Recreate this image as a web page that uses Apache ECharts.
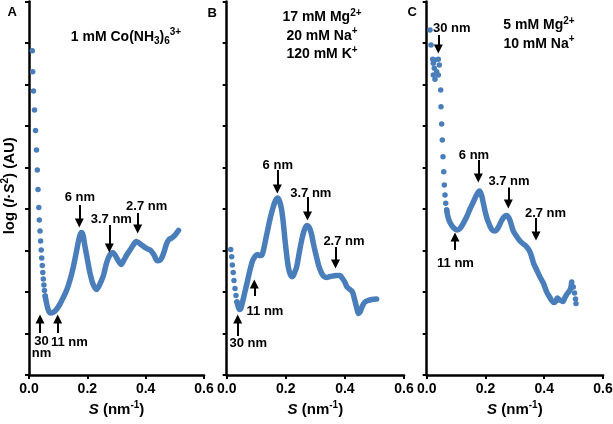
<!DOCTYPE html>
<html>
<head>
<meta charset="utf-8">
<script src="https://cdn.jsdelivr.net/npm/echarts@6/dist/echarts.min.js"></script>
<style>
html,body{margin:0;padding:0;background:#fff;}
#chart{width:613px;height:424px;}
</style>
</head>
<body>
<div id="chart"></div>
<script>
// ---- data (S in nm^-1, log(I*S^2) in arbitrary units, 0..9 ticks) ----
const xTicks = [0.0, 0.2, 0.4, 0.6];
const yTickCount = 9;

// Panel A: 1 mM Co(NH3)6 3+
const sparseA = [
  [0.0113,7.814],[0.0127,7.308],[0.0154,6.843],[0.0189,6.386],[0.0223,5.892],[0.0257,5.422],
  [0.0285,4.940],[0.0309,4.470],[0.0336,4.036],[0.0353,3.735],[0.0377,3.470],[0.0398,3.229],
  [0.0418,3.012],[0.0435,2.819],[0.0456,2.639],[0.0473,2.470],[0.0490,2.313],[0.0511,2.169],
  [0.0531,2.036],[0.0555,1.904]
];
const curveA = [
  [0.0555,1.904],[0.0600,1.735],[0.0651,1.590],[0.0720,1.494],[0.0823,1.506],[0.0926,1.566],
  [0.1063,1.711],[0.1166,1.855],[0.1293,2.048],[0.1406,2.289],[0.1519,2.602],[0.1611,2.916],
  [0.1690,3.205],[0.1749,3.373],[0.1800,3.434],[0.1851,3.373],[0.1920,3.096],[0.2006,2.771],
  [0.2091,2.458],[0.2194,2.193],[0.2314,2.060],[0.2400,2.145],[0.2547,2.386],[0.2640,2.651],
  [0.2719,2.819],[0.2794,2.916],[0.2870,2.952],[0.2949,2.892],[0.3027,2.795],[0.3154,2.663],
  [0.3257,2.771],[0.3350,2.892],[0.3463,3.012],[0.3576,3.133],[0.3679,3.217],[0.3771,3.181],
  [0.3864,3.133],[0.4035,3.048],[0.4173,3.000],[0.4286,2.892],[0.4399,2.754],[0.4474,2.759],
  [0.4550,2.819],[0.4629,2.964],[0.4721,3.169],[0.4800,3.265],[0.4893,3.301],[0.5006,3.373],
  [0.5085,3.446],[0.5126,3.482]
];
const arrowsA = [[0.1725,4.096,3.663],[0.2753,3.614,3.060],[0.3727,3.904,3.518],[0.0377,1.012,1.349],[0.0984,1.012,1.349]];
const labelsA = [[0.1742,4.282,'6 nm'],[0.2822,3.752,'3.7 nm'],[0.4035,4.072,'2.7 nm'],[0.0429,0.663,'30\nnm'],[0.1382,0.795,'11 nm']];

// Panel B: 17 mM Mg2+, 20 mM Na+, 120 mM K+
const sparseB = [
  [0.0135,3.024],[0.0169,2.851],[0.0190,2.651],[0.0220,2.470],[0.0247,2.277],[0.0281,2.084],
  [0.0315,1.916],[0.0349,1.759]
];
const curveB = [
  [0.0349,1.759],[0.0393,1.639],[0.0433,1.578],[0.0484,1.614],[0.0552,1.807],[0.0619,2.012],
  [0.0704,2.265],[0.0788,2.530],[0.0873,2.747],[0.0958,2.855],[0.1042,2.904],[0.1110,2.880],
  [0.1178,2.880],[0.1245,3.012],[0.1330,3.301],[0.1408,3.566],[0.1482,3.807],[0.1577,4.055],
  [0.1651,4.205],[0.1726,4.265],[0.1787,4.193],[0.1854,4.000],[0.1905,3.735],[0.1973,3.253],
  [0.2030,2.892],[0.2091,2.578],[0.2161,2.410],[0.2227,2.373],[0.2294,2.458],[0.2369,2.610],
  [0.2447,2.916],[0.2538,3.253],[0.2616,3.470],[0.2707,3.602],[0.2785,3.566],[0.2863,3.414],
  [0.2937,3.157],[0.3022,2.892],[0.3107,2.651],[0.3208,2.458],[0.3293,2.373],[0.3384,2.349],
  [0.3496,2.373],[0.3607,2.386],[0.3716,2.398],[0.3834,2.398],[0.3919,2.325],[0.4003,2.229],
  [0.4071,2.120],[0.4172,2.060],[0.4257,2.000],[0.4342,1.783],[0.4409,1.590],[0.4460,1.482],
  [0.4511,1.518],[0.4579,1.639],[0.4663,1.747],[0.4782,1.795],[0.4917,1.819],[0.5076,1.831]
];
const arrowsB = [[0.1712,4.940,4.482],[0.2734,4.289,3.831],[0.3682,3.084,2.675],[0.0934,1.904,2.193],[0.0372,0.940,1.349]];
const labelsB = [[0.1729,5.060,'6 nm'],[0.2846,4.378,'3.7 nm'],[0.3969,3.212,'2.7 nm'],[0.1296,1.542,'11 nm'],[0.0731,0.764,'30 nm']];

// Panel C: 5 mM Mg2+, 10 mM Na+
const sparseC = [
  [0.0112,8.313],[0.0146,7.952],[0.0204,7.607],[0.0225,7.511],[0.0225,7.229],[0.0259,7.390],
  [0.0282,7.590],[0.0282,7.125],[0.0340,7.308],[0.0395,7.607],[0.0395,7.229],[0.0429,7.470],
  [0.0476,6.867],[0.0487,6.465],[0.0510,6.048],[0.0531,5.663],[0.0555,5.260],[0.0579,4.899],
  [0.0599,4.578],[0.0623,4.337],[0.0647,4.137],[0.0681,3.976],
  [0.4989,2.120],[0.5030,1.976],[0.5064,1.831],[0.5081,1.723]
];
const curveC = [
  [0.0681,3.976],[0.0725,3.807],[0.0793,3.675],[0.0905,3.554],[0.1041,3.494],[0.1133,3.530],
  [0.1245,3.655],[0.1361,3.814],[0.1473,4.000],[0.1586,4.169],[0.1712,4.361],[0.1797,4.434],
  [0.1865,4.337],[0.1926,4.145],[0.2018,3.855],[0.2096,3.687],[0.2212,3.506],[0.2307,3.470],
  [0.2382,3.494],[0.2460,3.590],[0.2552,3.723],[0.2631,3.807],[0.2722,3.843],[0.2801,3.783],
  [0.2858,3.675],[0.2947,3.470],[0.3063,3.337],[0.3175,3.229],[0.3287,3.157],[0.3379,3.108],
  [0.3491,3.000],[0.3566,2.867],[0.3634,2.699],[0.3737,2.542],[0.3856,2.361],[0.3968,2.217],
  [0.4084,2.000],[0.4172,1.892],[0.4254,1.795],[0.4332,1.747],[0.4400,1.783],[0.4451,1.855],
  [0.4502,1.819],[0.4570,1.795],[0.4638,1.771],[0.4706,1.867],[0.4774,1.952],[0.4842,2.012],
  [0.4900,2.084],[0.4934,2.241]
];
const arrowsC = [[0.0395,8.193,7.855],[0.1756,5.181,4.747],[0.2777,4.518,4.120],[0.3719,3.783,3.349],[0.0963,3.012,3.325]];
const labelsC = [[0.0851,8.354,'30 nm'],[0.1610,5.301,'6 nm'],[0.2801,4.658,'3.7 nm'],[0.4043,3.896,'2.7 nm'],[0.0980,2.692,'11 nm']];

const panelLetters = ['A', 'B', 'C'];
const conditionsA = ['{n|1 mM Co(NH}{sub|3}{n|)}{sub|6}{sup|3+}'];
const conditionsB = ['{n|17 mM Mg}{sup|2+}', '{n|20 mM Na}{sup|+}', '{n|120 mM K}{sup|+}'];
const conditionsC = ['{n|5 mM Mg}{sup|2+}', '{n|10 mM Na}{sup|+}'];

// ---- styling / layout ----
const BLUE = '#4a7ebb';
const FONT = '"Liberation Sans", Arial, sans-serif';
const grids = [
  {left: 29, width: 175, top: 1.5, bottom: 49},
  {left: 226.7, width: 177.3, top: 1.5, bottom: 49},
  {left: 426.7, width: 176.3, top: 1.5, bottom: 49}
];
function makeRich(size, supSize) {
  return {
    n: {fontFamily: FONT, fontWeight: 'bold', fontSize: size, lineHeight: size + 5, color: '#000', verticalAlign: 'middle'},
    i: {fontFamily: FONT, fontWeight: 'bold', fontStyle: 'italic', fontSize: size, lineHeight: size + 5, color: '#000', verticalAlign: 'middle'},
    sup: {fontFamily: FONT, fontWeight: 'bold', fontSize: supSize, lineHeight: supSize, color: '#000', verticalAlign: 'top'},
    sub: {fontFamily: FONT, fontWeight: 'bold', fontSize: supSize, lineHeight: supSize, color: '#000', verticalAlign: 'bottom'}
  };
}
const richCond = makeRich(14, 10);
const richAxis = makeRich(15, 10);

const chart = echarts.init(document.getElementById('chart'), null, {renderer: 'canvas'});

const xAxes = grids.map((g, k) => ({
  type: 'value', gridIndex: k, min: xTicks[0], max: xTicks[xTicks.length - 1], interval: 0.2,
  axisLine: {show: true, onZero: false, lineStyle: {color: '#000', width: 2.5}},
  axisTick: {show: true, inside: false, length: 4, lineStyle: {color: '#000', width: 2}},
  axisLabel: {show: true, color: '#000', fontFamily: FONT, fontWeight: 'bold', fontSize: 14, margin: 7,
              formatter: v => v.toFixed(1)},
  splitLine: {show: false},
  name: '{i|S}{n| (nm}{sup|-1}{n|)}', nameLocation: 'middle', nameGap: 25, nameMoveOverlap: false,
  nameTextStyle: {rich: richAxis}
}));
const yAxes = grids.map((g, k) => ({
  type: 'value', gridIndex: k, min: 0, max: yTickCount, interval: 1,
  axisLine: {show: true, onZero: false, lineStyle: {color: '#000', width: 2.5}},
  axisTick: {show: true, inside: false, length: 4, lineStyle: {color: '#000', width: 2}},
  axisLabel: {show: false},
  splitLine: {show: false},
  name: k === 0 ? '{n|log (}{i|I}{n|·}{i|S}{sup|2}{n|) (AU)}' : '',
  nameLocation: 'middle', nameRotate: 90, nameGap: 9, nameMoveOverlap: false,
  nameTextStyle: {rich: richAxis, padding: [0, 0, 0, 5]}
}));

const sparse = [sparseA, sparseB, sparseC];
const curves = [curveA, curveB, curveC];
const arrows = [arrowsA, arrowsB, arrowsC];
const labels = [labelsA, labelsB, labelsC];

const series = [];
for (let k = 0; k < 3; k++) {
  series.push({
    type: 'line', xAxisIndex: k, yAxisIndex: k, data: curves[k], showSymbol: false, smooth: 0.3,
    lineStyle: {color: BLUE, width: 5.5, cap: 'round', join: 'round', opacity: 1}, silent: true
  });
  series.push({
    type: 'scatter', xAxisIndex: k, yAxisIndex: k, data: sparse[k], symbolSize: 5.5,
    itemStyle: {color: BLUE, opacity: 1}, silent: true
  });
  series.push({
    type: 'scatter', xAxisIndex: k, yAxisIndex: k, symbolSize: 0, silent: true,
    itemStyle: {opacity: 1},
    data: labels[k].map(l => ({value: [l[0], l[1]], name: l[2]})),
    label: {show: true, position: 'inside', formatter: '{b}', color: '#000', opacity: 1, fontFamily: FONT,
            fontWeight: 'bold', fontSize: 13, lineHeight: 12, textBorderWidth: 0, textBorderColor: 'transparent'},
    markLine: {
      silent: true, symbol: ['none', 'triangle'], symbolSize: [9, 9], animation: false,
      lineStyle: {color: '#000', width: 2, type: 'solid', opacity: 1}, label: {show: false},
      emphasis: {disabled: true},
      data: arrows[k].map(a => [{coord: [a[0], a[1]]}, {coord: [a[0], a[2]]}])
    }
  });
}

const graphics = [];
const letterPos = [[12.3, 12.5], [212.3, 13], [412.3, 12]];
panelLetters.forEach((t, k) => graphics.push({
  type: 'text', x: letterPos[k][0], y: letterPos[k][1], silent: true,
  style: {text: t, font: 'bold 13px ' + FONT, fill: '#000', textAlign: 'center', textVerticalAlign: 'middle'}
}));
const condSets = [
  {lines: conditionsA, x: 126, y0: 37, dy: 18.5},
  {lines: conditionsB, x: 322, y0: 17.5, dy: 18.5},
  {lines: conditionsC, x: 539, y0: 25.5, dy: 18.5}
];
condSets.forEach(c => c.lines.forEach((t, j) => graphics.push({
  type: 'text', x: c.x, y: c.y0 + j * c.dy, silent: true,
  style: {text: t, rich: richCond, textAlign: 'center', textVerticalAlign: 'middle'}
})));

chart.setOption({
  animation: false,
  backgroundColor: '#fff',
  grid: grids.map(g => Object.assign({containLabel: false, outerBoundsMode: 'none'}, g)),
  xAxis: xAxes,
  yAxis: yAxes,
  series: series,
  graphic: graphics
});
</script>
</body>
</html>
